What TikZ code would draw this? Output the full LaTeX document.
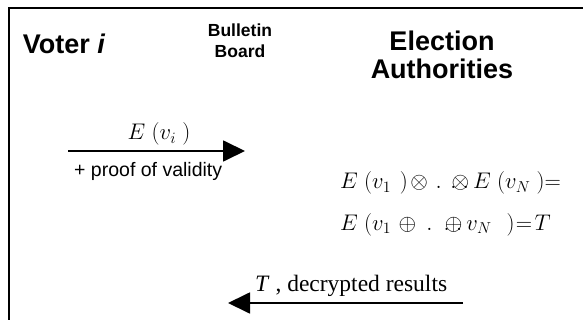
\RequirePackage{fix-cm}
\documentclass[tikz,border=0pt]{standalone}
\usepackage{fontspec}
\setmainfont{Liberation Serif}
\newfontfamily\arial{Liberation Sans}
\usetikzlibrary{arrows.meta}
\newcommand{\dotop}[1]{\mathord{\rlap{$\mkern-1mu.\mkern5mu.$}#1}}
\begin{document}
\begin{tikzpicture}[x=1pt,y=-1pt,
  hdr/.style={inner sep=0pt, align=center, font=\arial\bfseries\fontsize{27}{28}\selectfont},
  small/.style={inner sep=0pt, align=center, font=\arial\bfseries\fontsize{17.5}{21}\selectfont},
  lbl/.style={inner sep=0pt, font=\fontsize{22.6}{27}\selectfont},
  tlbl/.style={inner sep=0pt, font=\fontsize{23.5}{26}\selectfont},
  slbl/.style={inner sep=0pt, font=\arial\fontsize{19.5}{23}\selectfont},
  msg/.style={line width=1.8pt, -{Triangle[length=22pt,width=21pt]}},
  frame/.style={line width=2.6pt}]
\useasboundingbox (0,0) rectangle (583,320);
\coordinate (fbl) at (9,321);
\coordinate (ftl) at (9,8);
\coordinate (ftr) at (584,8);
\draw[frame] (fbl) -- (ftl) -- (ftr);
\node[hdr, anchor=base] (voter) at (64,54) {Voter \textit{i}};
\node[small] (bb) at (240,41) {Bulletin\\Board};
\node[hdr] (ea) at (442,55) {Election\\Authorities};
\coordinate (a1s) at (68,151);
\coordinate (a1e) at (245,151);
\draw[msg] (a1s) -- (a1e);
\node[lbl, anchor=base] (evi) at (159,140) {$E\;(v_i\;)$};
\node[slbl, anchor=base west] (proof) at (74,177) {+ proof of validity};
\node[lbl, anchor=base west] (eq1) at (340,189) {$E\;(v_1\mkern7mu)\mkern2mu\mathord{\otimes}\mkern6mu.\mkern8mu\dotop{\otimes}\mkern3mu E\;(v_N\mkern5mu)\mathord{=}$};
\node[lbl, anchor=base west] (eq2) at (340,230) {$E\;(v_1\mkern6mu\mathord{\oplus}\mkern8mu.\mkern10mu\dotop{\oplus}\mkern3mu v_N\mkern12mu)\mkern1mu\mathord{=}\mkern2mu T$};
\coordinate (a2s) at (463,303);
\coordinate (a2e) at (228,303);
\draw[msg] (a2s) -- (a2e);
\node[tlbl, anchor=base west] (tres) at (255,291) {\textit{T} , decrypted results};
\end{tikzpicture}
\end{document}
